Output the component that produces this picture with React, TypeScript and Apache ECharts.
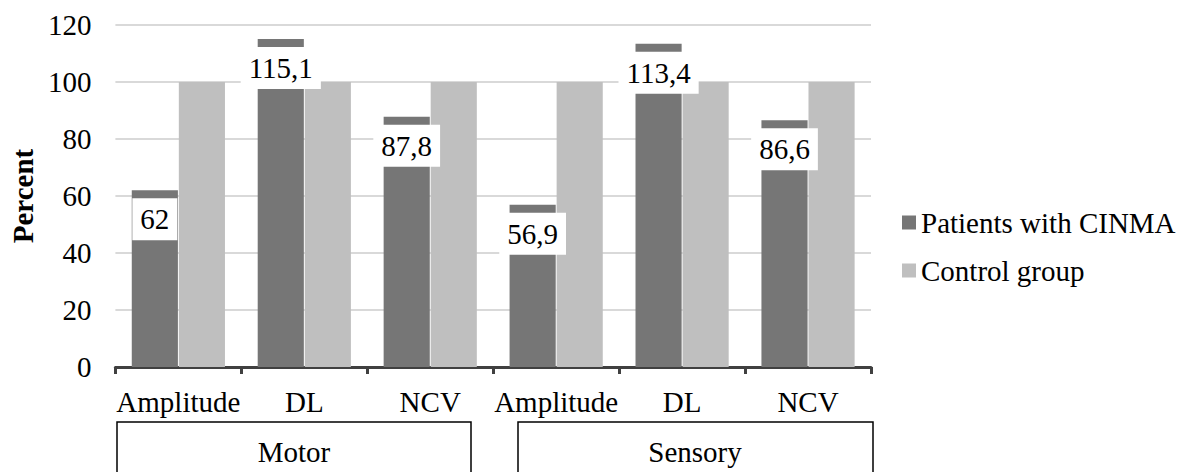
import React, { useEffect, useRef } from "react";
import * as echarts from "echarts";

const categories = ["Amplitude", "DL", "NCV", "Amplitude", "DL", "NCV"];
const groups = ["Motor", "Sensory"];
const patients = [62, 115.1, 87.8, 56.9, 113.4, 86.6];
const control = [100, 100, 100, 100, 100, 100];
const seriesNames = ["Patients with CINMA", "Control group"];
const yTicks = { min: 0, max: 120, interval: 20 };

const FONT = "Liberation Serif";

export default function App() {
  const ref = useRef<HTMLDivElement>(null);
  useEffect(() => {
    document.body.style.margin = "0";
    const chart = echarts.init(ref.current!, null, { renderer: "svg" });
    chart.setOption({
      animation: false,
      textStyle: { fontFamily: FONT },
      grid: { left: 115, top: 25, width: 756, height: 342, containLabel: false },
      legend: {
        orient: "vertical",
        left: 897,
        top: 203,
        icon: "rect",
        itemWidth: 14,
        itemHeight: 14,
        itemGap: 19,
        textStyle: { fontFamily: FONT, fontSize: 29, color: "#000", lineHeight: 29 },
        data: seriesNames,
      },
      xAxis: {
        type: "category",
        data: categories,
        axisLine: { lineStyle: { color: "#404040", width: 3 } },
        axisTick: { show: true, length: 7, lineStyle: { color: "#404040", width: 3 } },
        axisLabel: { fontFamily: FONT, fontSize: 29, color: "#000", margin: 20, lineHeight: 29, interval: 0 },
      },
      yAxis: {
        type: "value",
        min: yTicks.min,
        max: yTicks.max,
        interval: yTicks.interval,
        name: "Percent",
        nameLocation: "middle",
        nameGap: 78,
        nameTextStyle: { fontFamily: FONT, fontSize: 29, fontWeight: "bold", color: "#000" },
        axisLine: { show: false },
        axisTick: { show: false },
        axisLabel: { fontFamily: FONT, fontSize: 29, color: "#000", margin: 24 },
        splitLine: { lineStyle: { color: "#d9d9d9", width: 2 } },
      },
      series: [
        {
          name: seriesNames[0],
          type: "bar",
          data: patients,
          barGap: "2%",
          barCategoryGap: "26%",
          itemStyle: { color: "#767676" },
          label: {
            show: true,
            position: "insideTop",
            distance: 8,
            backgroundColor: "#fff",
            padding: [6, 8],
            fontFamily: FONT,
            fontSize: 29,
            lineHeight: 30,
            color: "#000",
            formatter: (p: any) => String(p.value).replace(".", ","),
          },
        },
        {
          name: seriesNames[1],
          type: "bar",
          data: control,
          barGap: "2%",
          barCategoryGap: "26%",
          itemStyle: { color: "#bfbfbf" },
        },
      ],
      graphic: [
        {
          type: "rect",
          shape: { x: 117, y: 422, width: 354, height: 70 },
          style: { fill: "none", stroke: "#000", lineWidth: 1.5 },
        },
        {
          type: "rect",
          shape: { x: 518, y: 422, width: 355, height: 70 },
          style: { fill: "none", stroke: "#000", lineWidth: 1.5 },
        },
        {
          type: "text",
          x: 294,
          y: 452,
          style: { text: groups[0], fontFamily: FONT, fontSize: 29, fill: "#000", align: "center", verticalAlign: "middle" },
        },
        {
          type: "text",
          x: 695,
          y: 452,
          style: { text: groups[1], fontFamily: FONT, fontSize: 29, fill: "#000", align: "center", verticalAlign: "middle" },
        },
      ],
    });
    return () => chart.dispose();
  }, []);
  return <div ref={ref} style={{ width: 1178, height: 472 }} />;
}
